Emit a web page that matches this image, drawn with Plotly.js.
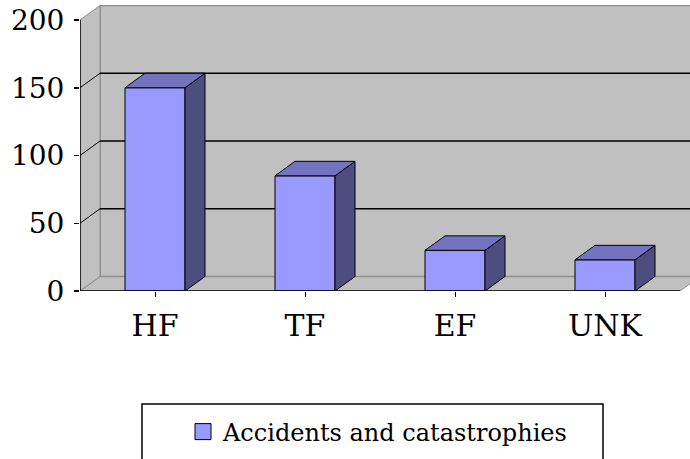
<!DOCTYPE html>
<html>
<head>
<meta charset="utf-8">
<script src="https://cdn.plot.ly/plotly-3.0.1.min.js"></script>
<style>html,body{margin:0;padding:0;background:#fff;}#chart{width:690px;height:459px;}</style>
</head>
<body>
<div id="chart"></div>
<script>
// ---- data ----
const categories = ["HF", "TF", "EF", "UNK"];
const values = [150, 85, 30, 23];
const seriesName = "Accidents and catastrophies";
const yTicks = [0, 50, 100, 150, 200];

// ---- style / geometry ----
const W = 690, H = 459;
const mL = 80, mR = 0, mT = 5, mB = 168;
const plotW = W - mL - mR, plotH = H - mT - mB;
const pxPerCat = 150;
const yTopVal = 200;
const yTopPx = 20;                       // pixel row of value 200
const pxPerUnit = (H - mB - yTopPx) / yTopVal;
const xRange = [-0.5, -0.5 + plotW / pxPerCat];
const yRange = [0, plotH / pxPerUnit];
const depthXpx = 20, depthYpx = 14.5;
const dX = depthXpx / pxPerCat, dY = depthYpx / pxPerUnit;
const halfW = 0.2;
const frontColor = "#9999FF", topColor = "#7373C0", sideColor = "#4D4D80";
const wallColor = "#C0C0C0", wallEdge = "#8C8C8C";
const serif = "DejaVu Serif";

const xs = categories.map((c, i) => i);
const xLeft = -0.5, xRight = categories.length - 0.5;

// 3D faces from data
const sideX = [], sideY = [], topX = [], topY = [];
xs.forEach((c, i) => {
  const v = values[i];
  sideX.push(c + halfW, c + halfW + dX, c + halfW + dX, c + halfW, c + halfW, null);
  sideY.push(0, dY, v + dY, v, 0, null);
  topX.push(c - halfW, c + halfW, c + halfW + dX, c - halfW + dX, c - halfW, null);
  topY.push(v, v, v + dY, v + dY, v, null);
});

const traces = [
  {
    type: "bar", x: xs, y: values, width: 2 * halfW, name: seriesName,
    marker: { color: frontColor, line: { color: "#000", width: 1 } },
    showlegend: false, hoverinfo: "y"
  },
  {
    type: "scatter", mode: "lines", x: sideX, y: sideY, fill: "toself",
    fillcolor: sideColor, line: { color: "#000", width: 1 }, showlegend: false, hoverinfo: "skip"
  },
  {
    type: "scatter", mode: "lines", x: topX, y: topY, fill: "toself",
    fillcolor: topColor, line: { color: "#000", width: 1 }, showlegend: false, hoverinfo: "skip"
  },
  {
    type: "scatter", mode: "markers", x: [null], y: [null], name: seriesName,
    marker: { symbol: "square", size: 16, color: frontColor, line: { color: "#000", width: 1 } },
    showlegend: true, hoverinfo: "skip"
  }
];

const shapes = [];
// floor
shapes.push({ type: "path", xref: "x", yref: "y", layer: "below",
  path: `M${xLeft},0 L${xRight},0 L${xRight + dX},${dY} L${xLeft + dX},${dY} Z`,
  fillcolor: wallColor, line: { color: wallEdge, width: 1 } });
// back wall
shapes.push({ type: "rect", xref: "x", yref: "y", layer: "below",
  x0: xLeft + dX, x1: xRight + dX, y0: dY, y1: yTopVal + dY,
  fillcolor: wallColor, line: { color: wallEdge, width: 1.5 } });
// left wall
shapes.push({ type: "path", xref: "x", yref: "y", layer: "below",
  path: `M${xLeft},0 L${xLeft},${yTopVal} L${xLeft + dX},${yTopVal + dY} L${xLeft + dX},${dY} Z`,
  fillcolor: wallColor, line: { color: wallEdge, width: 1 } });
// gridlines on back wall + side wall
yTicks.filter(v => v > 0 && v < yTopVal).forEach(v => {
  shapes.push({ type: "line", xref: "x", yref: "y", layer: "below",
    x0: xLeft + dX, x1: xRight + dX, y0: v + dY, y1: v + dY, line: { color: "#000", width: 1.5 } });
  shapes.push({ type: "line", xref: "x", yref: "y", layer: "below",
    x0: xLeft, x1: xLeft + dX, y0: v, y1: v + dY, line: { color: "#000", width: 1 } });
});
// front axis lines
shapes.push({ type: "line", xref: "x", yref: "y", layer: "above",
  x0: xLeft, x1: xLeft, y0: 0, y1: yTopVal, line: { color: "#000", width: 1.5 } });
shapes.push({ type: "line", xref: "x", yref: "y", layer: "above",
  x0: xLeft, x1: xRight, y0: 0, y1: 0, line: { color: "#000", width: 1.5 } });
// legend box
const px2paperX = px => (px - mL) / plotW;
const px2paperY = py => (H - mB - py) / plotH;
shapes.push({ type: "rect", xref: "paper", yref: "paper",
  x0: px2paperX(142), x1: px2paperX(603), y0: px2paperY(475), y1: px2paperY(404),
  fillcolor: "rgba(0,0,0,0)", line: { color: "#000", width: 1.5 } });

const layout = {
  width: W, height: H,
  margin: { l: mL, r: mR, t: mT, b: mB },
  paper_bgcolor: "#fff", plot_bgcolor: "#fff",
  font: { family: serif, color: "#000" },
  showlegend: true,
  legend: {
    x: px2paperX(183), xanchor: "left", y: px2paperY(432), yanchor: "middle",
    bgcolor: "rgba(0,0,0,0)", borderwidth: 0,
    font: { family: serif, size: 24, color: "#000" }
  },
  xaxis: {
    range: xRange, tickmode: "array", tickvals: xs, ticktext: categories,
    tickson: "boundaries", ticks: "outside", ticklen: 5, tickwidth: 1, tickcolor: "#000",
    showgrid: false, zeroline: false, showline: false,
    tickfont: { family: serif, size: 30, color: "#000" },
    ticklabelstandoff: 3, fixedrange: true
  },
  yaxis: {
    range: yRange, tickmode: "array", tickvals: yTicks,
    ticks: "outside", ticklen: 5, tickwidth: 1.5, tickcolor: "#000",
    showgrid: false, zeroline: false, showline: false,
    tickfont: { family: serif, size: 28, color: "#000" },
    ticklabelstandoff: 4, fixedrange: true
  },
  shapes: shapes,
  hovermode: false
};

Plotly.newPlot("chart", traces, layout, { displayModeBar: false, staticPlot: true });
</script>
</body>
</html>
